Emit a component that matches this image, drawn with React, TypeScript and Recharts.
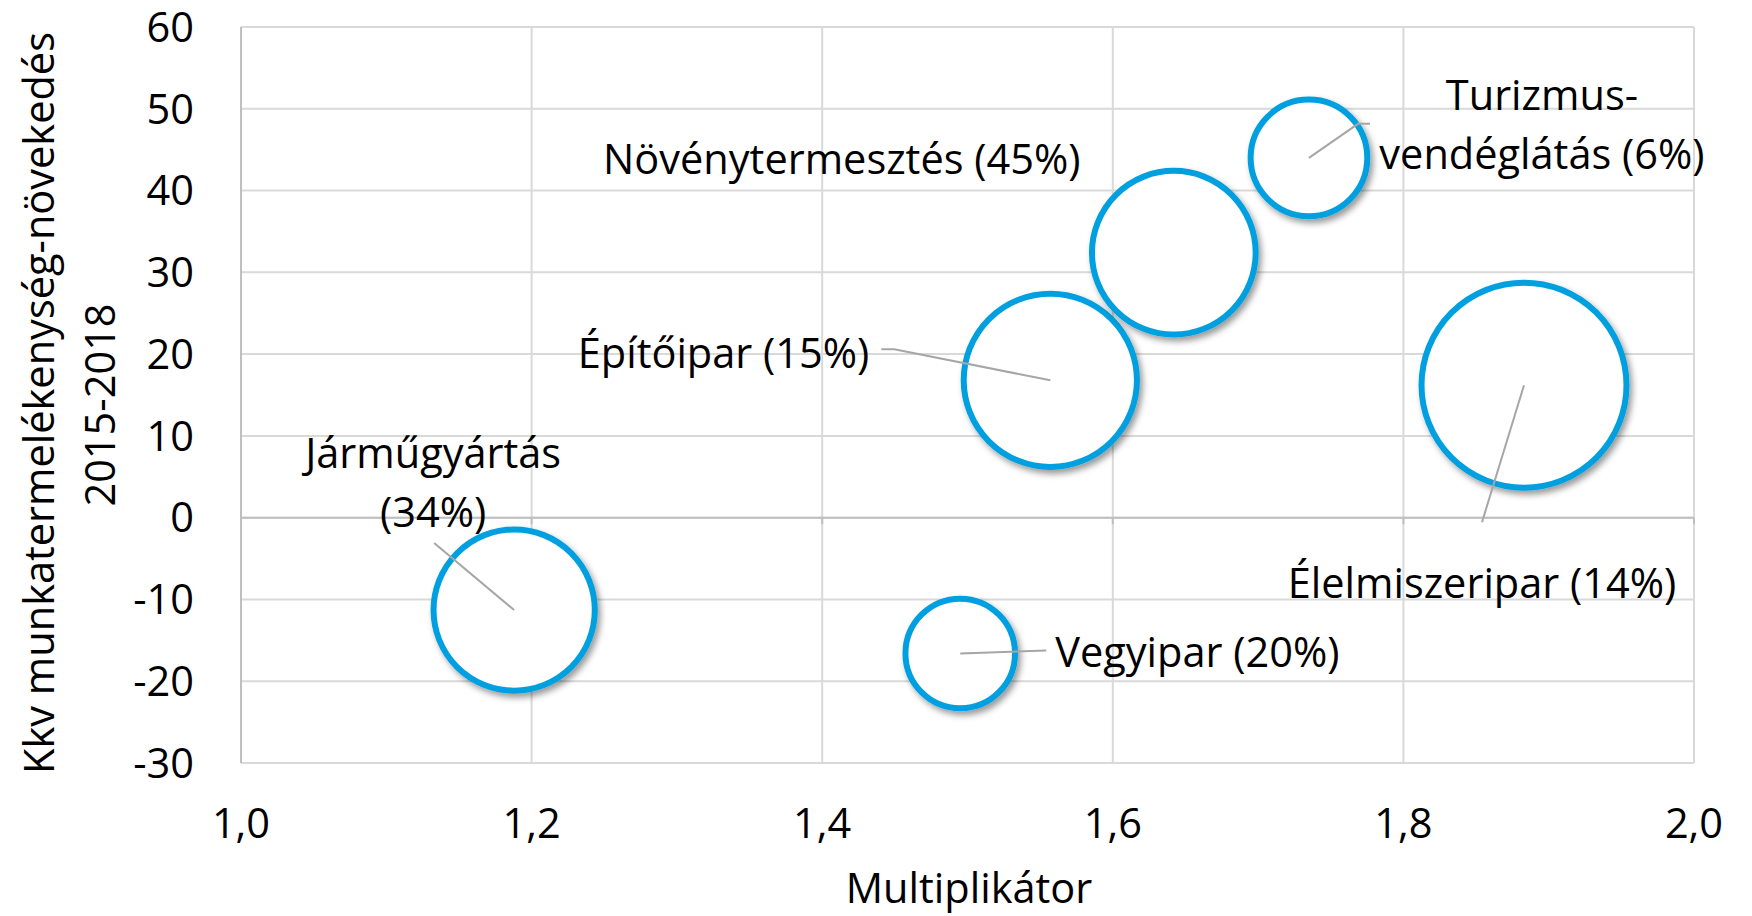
import React from 'react';
import {
  ScatterChart,
  Scatter,
  XAxis,
  YAxis,
  ZAxis,
  CartesianGrid,
  ReferenceLine,
} from 'recharts';

const SECTORS = [
  'Járműgyártás',
  'Vegyipar',
  'Építőipar',
  'Növénytermesztés',
  'Turizmus-vendéglátás',
  'Élelmiszeripar',
];
const SHARES = [34, 20, 15, 45, 6, 14];
const MULTIPLIER = [1.188, 1.495, 1.557, 1.642, 1.735, 1.883];
const GROWTH = [-11.3, -16.6, 16.8, 32.4, 44.0, 16.2];
const BUBBLE_SIZE = [65, 30, 75, 67, 34, 105];

const X_TICKS = [1.0, 1.2, 1.4, 1.6, 1.8, 2.0];
const Y_TICKS = [-30, -20, -10, 0, 10, 20, 30, 40, 50, 60];

const FONT = "'Open Sans', sans-serif";
const FS = 41.5;
const BLUE = '#05A0E0';
const GRID = '#d9d9d9';
const AXIS = '#bfbfbf';
const LEADER = '#a6a6a6';
const LINE_GAP = 59;

// label placement relative to the bubble centre, in px
const LABEL_LAYOUT = [
  { dx: -81, dy: -155, anchor: 'middle', split: true, leader: [[0, 0], [-80, -67]] },
  { dx: 95, dy: 1, anchor: 'start', split: false, leader: [[0, 0], [86, -3]] },
  { dx: -181, dy: -25, anchor: 'end', split: false, leader: [[0, 0], [-156, -31], [-169, -31]] },
  { dx: -332, dy: -91, anchor: 'middle', split: false, leader: null },
  { dx: 233, dy: -60, anchor: 'middle', split: true, leader: [[0, 0], [49, -34], [61, -34]] },
  { dx: -42, dy: 200, anchor: 'middle', split: false, leader: [[0, 0], [-42, 137]] },
];

const rows = SECTORS.map((name, i) => ({
  name,
  share: SHARES[i],
  x: MULTIPLIER[i],
  y: GROWTH[i],
  z: BUBBLE_SIZE[i],
  idx: i,
}));

function labelLines(name: string, share: number, split: boolean) {
  if (!split) return [`${name} (${share}%)`];
  const h = name.indexOf('-');
  if (h >= 0) return [name.slice(0, h + 1), `${name.slice(h + 1)} (${share}%)`];
  return [name, `(${share}%)`];
}

const fmt = (v: number) => v.toFixed(1).replace('.', ',');

function Bubble(props: any) {
  const { cx, cy, size } = props;
  const r = Math.sqrt(size / Math.PI);
  return (
    <g>
      <defs>
        <filter id="bubbleShadow" x="-30%" y="-30%" width="160%" height="160%">
          <feDropShadow dx="3" dy="4" stdDeviation="3" floodColor="#000" floodOpacity="0.4" />
        </filter>
      </defs>
      <circle cx={cx} cy={cy} r={r} fill="#fff" stroke={BLUE} strokeWidth={6} filter="url(#bubbleShadow)" />
    </g>
  );
}

function BubbleLabel(props: any) {
  const { cx, cy, payload } = props;
  const lay = LABEL_LAYOUT[payload.idx];
  const lines = labelLines(payload.name, payload.share, lay.split);
  return (
    <g>
      {lay.leader && (
        <polyline
          points={lay.leader.map(([px, py]) => `${cx + px},${cy + py}`).join(' ')}
          fill="none"
          stroke={LEADER}
          strokeWidth={2}
        />
      )}
      {lines.map((t, k) => (
        <text
          key={k}
          x={cx + lay.dx}
          y={cy + lay.dy + k * LINE_GAP + FS * 0.3}
          textAnchor={lay.anchor}
          fontFamily={FONT}
          fontSize={FS}
          fill="#000"
        >
          {t}
        </text>
      ))}
    </g>
  );
}

function YTitle() {
  return (
    <g fontFamily={FONT} fontSize={FS} fill="#000">
      <text x={54} y={403} transform="rotate(-90, 54, 403)" textAnchor="middle">
        Kkv munkatermelékenység-növekedés
      </text>
      <text x={115} y={405} transform="rotate(-90, 115, 405)" textAnchor="middle">
        2015-2018
      </text>
    </g>
  );
}

function XTitle() {
  return (
    <text x={969} y={903} textAnchor="middle" fontFamily={FONT} fontSize={FS} fill="#000">
      Multiplikátor
    </text>
  );
}

export default function App() {
  return (
    <div style={{ position: 'absolute', left: 0, top: 0, width: 1752, height: 916, background: '#fff' }}>
      <ScatterChart width={1752} height={916} margin={{ top: 27, right: 58, bottom: 0, left: 0 }}>
        <CartesianGrid stroke={GRID} strokeWidth={2} />
        <XAxis
          type="number"
          dataKey="x"
          domain={[1, 2]}
          ticks={X_TICKS}
          tickFormatter={fmt}
          height={153}
          tickLine={false}
          tickSize={0}
          tickMargin={46}
          axisLine={{ stroke: GRID, strokeWidth: 2 }}
          tick={{ fontFamily: FONT, fontSize: FS, fill: '#000' }}
          interval={0}
          label={{ content: () => <XTitle /> }}
        />
        <YAxis
          type="number"
          dataKey="y"
          domain={[-30, 60]}
          ticks={Y_TICKS}
          width={241}
          tickLine={false}
          tickSize={0}
          tickMargin={47}
          axisLine={{ stroke: AXIS, strokeWidth: 2 }}
          tick={{ fontFamily: FONT, fontSize: FS, fill: '#000' }}
          interval={0}
          label={{ content: () => <YTitle /> }}
        />
        <ZAxis type="number" dataKey="z" domain={[0, 105]} range={[0, 105 * Math.PI * 100]} />
        <ReferenceLine y={0} stroke={AXIS} strokeWidth={2} />
        {X_TICKS.map((t) => (
          <ReferenceLine
            key={t}
            segment={[{ x: t, y: 0 }, { x: t, y: -0.8 }]}
            stroke={AXIS}
            strokeWidth={2}
            ifOverflow="visible"
          />
        ))}
        <Scatter data={rows} shape={<Bubble />} isAnimationActive={false} />
        <Scatter data={rows} shape={<BubbleLabel />} isAnimationActive={false} />
      </ScatterChart>
    </div>
  );
}
